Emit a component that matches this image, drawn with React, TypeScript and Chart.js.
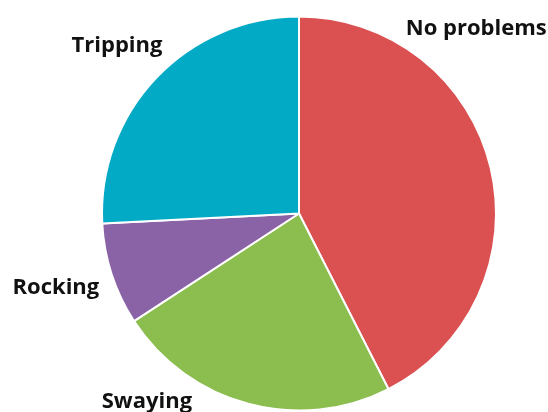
import React, { useEffect, useRef } from "react";
import { Chart, registerables } from "chart.js";

Chart.register(...registerables);

const categories = ["No problems", "Swaying", "Rocking", "Tripping"];
const shares = [42.5, 23.3, 8.4, 25.8];
const sliceColors = ["#DB5050", "#8CBD4F", "#8A63A6", "#03AAC6"];
// label anchor offsets, in units of the pie radius from its centre
const labelDx = [0.9, -0.772, -1.234, -0.924];
const labelDy = [-0.94, 0.954, 0.376, -0.853];

const labelPlugin = {
  id: "outsideLabels",
  afterDraw(chart: any) {
    const meta = chart.getDatasetMeta(0);
    const arc = meta.data[0];
    if (!arc) return;
    const { x, y, outerRadius } = arc.getProps(["x", "y", "outerRadius"], true);
    const ctx = chart.ctx;
    ctx.save();
    ctx.font = "bold 22px 'Open Sans'";
    ctx.fillStyle = "#111111";
    ctx.textAlign = "center";
    ctx.textBaseline = "middle";
    categories.forEach((c, i) => {
      ctx.fillText(c, x + labelDx[i] * outerRadius, y + labelDy[i] * outerRadius);
    });
    ctx.restore();
  },
};

export default function App() {
  const ref = useRef<HTMLCanvasElement | null>(null);
  useEffect(() => {
    if (!ref.current) return;
    const chart = new Chart(ref.current, {
      type: "pie",
      data: {
        labels: categories,
        datasets: [
          {
            data: shares,
            backgroundColor: sliceColors,
            borderColor: "#ffffff",
            borderWidth: 2,
          },
        ],
      },
      options: {
        responsive: false,
        animation: false,
        layout: { padding: { left: 101, right: 51, top: 15, bottom: 0 } },
        plugins: {
          legend: { display: false },
          tooltip: { enabled: false },
        },
      },
      plugins: [labelPlugin],
    });
    return () => chart.destroy();
  }, []);
  return (
    <div style={{ position: "fixed", left: 0, top: 0, width: 548, height: 412, background: "#fff" }}>
      <canvas ref={ref} width={548} height={412} />
    </div>
  );
}
